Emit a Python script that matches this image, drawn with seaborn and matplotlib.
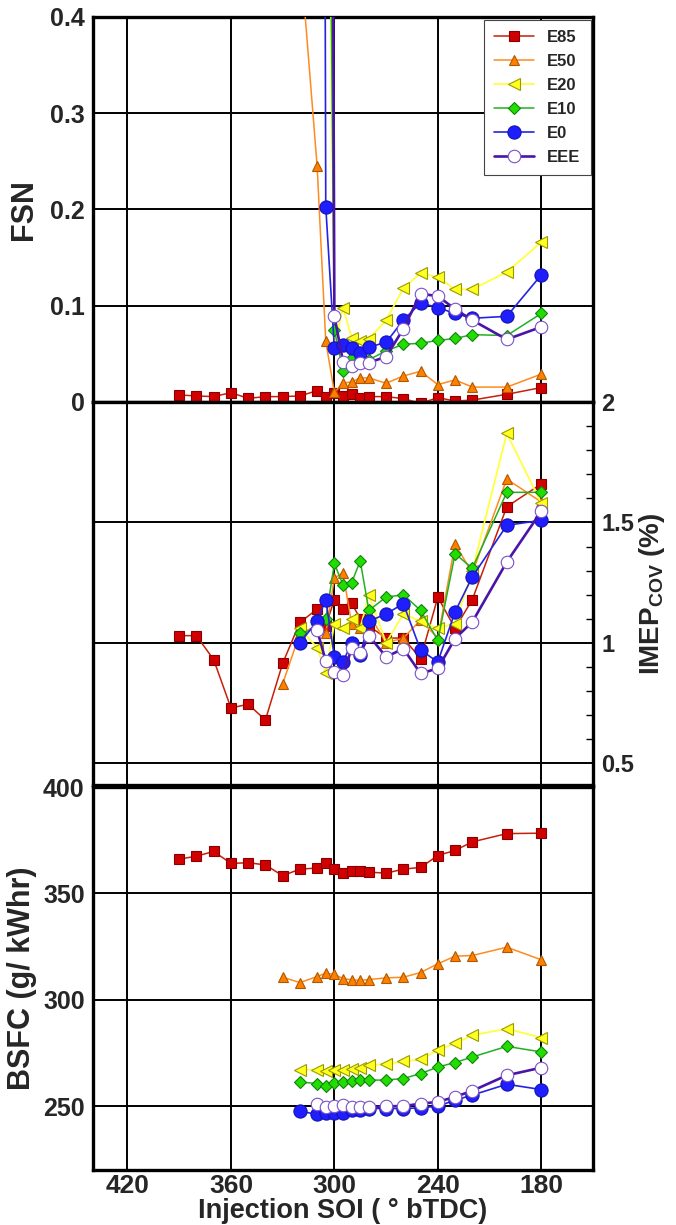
import numpy as np
import pandas as pd
import matplotlib
matplotlib.use('Agg')
import matplotlib.pyplot as plt
import seaborn as sns
from matplotlib.ticker import MultipleLocator, FixedLocator, FixedFormatter

# ---------------- data ----------------
names = ['E85', 'E50', 'E20', 'E10', 'E0', 'EEE']

soi_e85 = [390, 380, 370, 360, 350, 340, 330, 320, 310, 305, 300, 295, 290, 285,
           280, 270, 260, 250, 240, 230, 220, 200, 180]
soi_e50 = [330, 320, 310, 305, 300, 295, 290, 285, 280, 270, 260, 250, 240, 230,
           220, 200, 180]
soi_e20 = [320, 310, 305, 300, 295, 290, 285, 280, 270, 260, 250, 240, 230, 220, 200, 180]
soi_e10 = [320, 310, 305, 300, 295, 290, 285, 280, 270, 260, 250, 240, 230, 220, 200, 180]
soi_e0 = [320, 310, 305, 300, 295, 290, 285, 280, 270, 260, 250, 240, 230, 220, 200, 180]
soi_eee = [310, 305, 300, 295, 290, 285, 280, 270, 260, 250, 240, 230, 220, 200, 180]

fsn_e85 = [0.0073, 0.0063, 0.0056, 0.0097, 0.0038, 0.0056, 0.0056, 0.0063, 0.0118, 0.0049,
           0.009, 0.0063, 0.008, 0.0038, 0.0056, 0.0056, 0.0035, -0.0014, 0.0045, 0.001,
           0.002, 0.008, 0.015]
fsn_e50 = [0.8, 0.47, 0.245, 0.063, 0.01, 0.0195, 0.021, 0.025, 0.025, 0.0195, 0.027,
           0.032, 0.018, 0.023, 0.0155, 0.0155, 0.029]
fsn_e20 = [2.0, 1.5, 0.9, 0.058, 0.098, 0.067, 0.063, 0.0657, 0.085, 0.118, 0.134, 0.1295,
           0.117, 0.117, 0.135, 0.166]
fsn_e10 = [2.5, 2.0, 1.0, 0.075, 0.032, 0.0455, 0.045, 0.044, 0.053, 0.06, 0.061, 0.064,
           0.066, 0.07, 0.069, 0.092]
fsn_e0 = [4.0, 3.5, 0.203, 0.056, 0.059, 0.056, 0.051, 0.057, 0.062, 0.085, 0.103, 0.098,
          0.092, 0.087, 0.089, 0.132]
fsn_eee = [4.0, 2.5, 0.0896, 0.042, 0.037, 0.041, 0.041, 0.047, 0.076, 0.1125, 0.11,
           0.0965, 0.085, 0.065, 0.078]

imep_e85 = [1.03, 1.03, 0.93, 0.73, 0.745, 0.68, 0.915, 1.085, 1.14, 1.07, 1.18, 1.14,
            1.165, 1.10, 1.07, 1.02, 1.02, 0.935, 1.19, 1.06, 1.18, 1.565, 1.66]
imep_e50 = [0.83, 1.04, 1.07, 1.04, 1.27, 1.29, 1.08, 1.06, 1.12, 1.0, 1.02, 1.095, 1.02,
            1.41, 1.29, 1.68, 1.585]
imep_e20 = [1.06, 0.98, 0.875, 1.08, 1.06, 1.10, 1.06, 1.20, 1.0, 1.12, 1.09, 1.06, 1.08,
            1.30, 1.87, 1.58]
imep_e10 = [1.04, 1.06, 1.10, 1.33, 1.24, 1.25, 1.34, 1.135, 1.19, 1.20, 1.135, 1.01, 1.37,
            1.31, 1.625, 1.625]
imep_e0 = [1.0, 1.09, 1.18, 0.942, 0.921, 1.0, 0.95, 1.09, 1.12, 1.163, 0.97, 0.921, 1.129,
           1.274, 1.488, 1.509]
imep_eee = [1.053, 0.925, 0.88, 0.866, 0.977, 0.956, 1.03, 0.942, 0.976, 0.873, 0.894,
            1.018, 1.087, 1.336, 1.546]

bsfc_e85 = [366.1, 367.5, 369.7, 364.1, 364.4, 363.4, 358.3, 361.4, 361.9, 364.5, 361.4,
            359.5, 360.3, 360.3, 360.0, 359.5, 361.4, 362.2, 367.8, 370.2, 374.2, 378.1, 378.3]
bsfc_e50 = [310.6, 308.1, 310.9, 312.5, 311.9, 310.0, 309.4, 309.1, 309.5, 310.3, 310.6,
            312.8, 316.9, 320.5, 320.8, 324.7, 318.8]
bsfc_e20 = [267.2, 267.0, 266.5, 267.0, 267.0, 267.5, 268.0, 269.3, 269.8, 271.0, 272.0,
            276.3, 279.5, 283.3, 286.4, 282.2]
bsfc_e10 = [261.4, 260.6, 259.3, 260.8, 261.4, 261.6, 262.2, 262.2, 262.3, 263.0, 265.3,
            268.4, 270.5, 273.1, 278.1, 275.5]
bsfc_e0 = [247.7, 246.1, 246.6, 246.9, 246.6, 248.0, 248.4, 248.9, 248.9, 248.9, 249.2,
           250.0, 252.8, 255.2, 260.3, 257.8]
bsfc_eee = [251.2, 249.7, 250.2, 250.5, 249.7, 249.4, 249.4, 250.0, 250.0, 251.2, 252.0,
            254.4, 257.2, 264.5, 268.1]

x_major = [420, 360, 300, 240, 180]
fsn_ticks = [0, 0.1, 0.2, 0.3, 0.4]
fsn_labels = ['0', '0.1', '0.2', '0.3', '0.4']
imep_ticks = [0.5, 1, 1.5, 2]
imep_labels = ['0.5', '1', '1.5', '2']
bsfc_ticks = [250, 300, 350, 400]
bsfc_labels = ['250', '300', '350', '400']

soi_all = [soi_e85, soi_e50, soi_e20, soi_e10, soi_e0, soi_eee]
fsn_all = [fsn_e85, fsn_e50, fsn_e20, fsn_e10, fsn_e0, fsn_eee]
imep_all = [imep_e85, imep_e50, imep_e20, imep_e10, imep_e0, imep_eee]
bsfc_all = [bsfc_e85, bsfc_e50, bsfc_e20, bsfc_e10, bsfc_e0, bsfc_eee]

# ---------------- styles ----------------
line_colors = ['#c81e0a', '#ff8a1e', '#ffff40', '#22b022', '#2424e0', '#4b14a8']
face_colors = ['#d00000', '#ff8000', '#ffff20', '#22dd00', '#1e1eff', '#ffffff']
edge_colors = ['#8a0000', '#b05800', '#9a9a00', '#128012', '#1414b0', '#7a50c8']
markers = ['s', '^', '<', 'D', 'o', 'o']
msizes = [6.5, 7.5, 8, 6.5, 9.5, 9]
lwidths = [1.1, 1.1, 1.3, 1.1, 1.2, 1.9]

sns.set_style('white')
plt.rcParams['font.family'] = ['Liberation Sans', 'DejaVu Sans']
plt.rcParams['font.weight'] = 'bold'
plt.rcParams['mathtext.fontset'] = 'custom'
plt.rcParams['mathtext.rm'] = 'Liberation Sans:bold'
plt.rcParams['mathtext.bf'] = 'Liberation Sans:bold'
plt.rcParams['mathtext.it'] = 'Liberation Sans:bold'

fig = plt.figure(figsize=(6.76, 12.25), dpi=100)
L, W = 93 / 676, 500 / 676
ax1 = fig.add_axes([L, 1 - 402 / 1225, W, 385 / 1225])
ax2 = fig.add_axes([L, 1 - 785 / 1225, W, 383 / 1225])
ax3 = fig.add_axes([L, 1 - 1170 / 1225, W, 383 / 1225])

for ax, yall in [(ax1, fsn_all), (ax2, imep_all), (ax3, bsfc_all)]:
    for i in range(len(names)):
        df = pd.DataFrame({'SOI': soi_all[i], 'val': yall[i]})
        sns.lineplot(data=df, x='SOI', y='val', ax=ax, sort=False, estimator=None,
                     legend=False, color=line_colors[i], linewidth=lwidths[i],
                     marker=markers[i], markersize=msizes[i],
                     markerfacecolor=face_colors[i], markeredgecolor=edge_colors[i],
                     markeredgewidth=0.8, zorder=3 + i)

# ---------------- axes styling ----------------
for ax in (ax1, ax2, ax3):
    ax.set_xlim(440, 150)
    ax.xaxis.set_major_locator(FixedLocator(x_major))
    ax.xaxis.set_minor_locator(MultipleLocator(12))
    ax.grid(True, which='major', color='black', linewidth=1.4, zorder=1)
    ax.set_axisbelow(True)
    for s in ax.spines.values():
        s.set_linewidth(2.4)
        s.set_color('black')
    ax.tick_params(which='both', direction='in', color='black')
    ax.tick_params(which='major', length=0)
    ax.tick_params(which='minor', length=5, width=1)
    ax.set_xlabel('')
    ax.set_ylabel('')

ax1.tick_params(axis='x', labelbottom=False)
ax2.tick_params(axis='x', labelbottom=False)

ax1.set_ylim(0, 0.4)
ax1.yaxis.set_major_locator(FixedLocator(fsn_ticks))
ax1.yaxis.set_major_formatter(FixedFormatter(fsn_labels))
ax1.yaxis.set_minor_locator(MultipleLocator(0.02))
ax1.tick_params(axis='y', labelsize=18, pad=6)
ax1.set_ylabel('FSN', fontsize=22, fontweight='bold', labelpad=8)

ax2.set_ylim(0.41, 2.0)
ax2.yaxis.tick_right()
ax2.yaxis.set_label_position('right')
ax2.yaxis.set_major_locator(FixedLocator(imep_ticks))
ax2.yaxis.set_major_formatter(FixedFormatter(imep_labels))
ax2.yaxis.set_minor_locator(MultipleLocator(0.1))
ax2.tick_params(axis='y', which='both', left=False, right=True, labelsize=17, pad=6)
ax2.set_ylabel(r'IMEP$_{\mathbf{COV}}$ (%)', fontsize=20, fontweight='bold', labelpad=2)

ax3.set_ylim(220, 400)
ax3.yaxis.set_major_locator(FixedLocator(bsfc_ticks))
ax3.yaxis.set_major_formatter(FixedFormatter(bsfc_labels))
ax3.yaxis.set_minor_locator(MultipleLocator(10))
ax3.tick_params(axis='y', labelsize=18, pad=6)
ax3.tick_params(axis='x', labelsize=19, pad=3)
ax3.set_ylabel('BSFC (g/ kWhr)', fontsize=22, fontweight='bold', labelpad=4)
ax3.set_xlabel('Injection SOI ( ° bTDC)', fontsize=19.5, fontweight='bold', labelpad=0)

for t in ax1.get_yticklabels() + ax2.get_yticklabels() + ax3.get_yticklabels() + ax3.get_xticklabels():
    t.set_fontweight('bold')

leg = ax1.legend(ax1.lines[:6], names, loc='upper right', frameon=True, fancybox=False,
                 edgecolor='#444444', framealpha=1, fontsize=12, borderaxespad=0.15,
                 handlelength=2.4, labelspacing=0.55, borderpad=0.6, handletextpad=0.8)
leg.get_frame().set_linewidth(0.8)
for t in leg.get_texts():
    t.set_fontweight('bold')
leg.set_zorder(20)

fig.savefig('out.png', dpi=100)
